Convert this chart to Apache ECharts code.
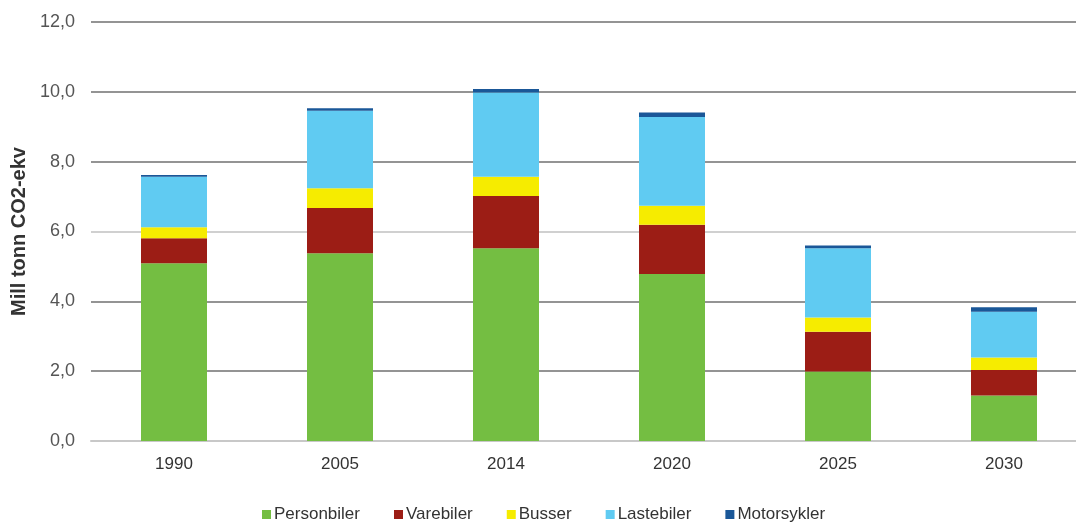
<!DOCTYPE html>
<html>
<head>
<meta charset="utf-8">
<script src="https://cdn.jsdelivr.net/npm/echarts@6/dist/echarts.min.js"></script>
<style>html,body{margin:0;padding:0;background:#fff;}#c{width:1076px;height:522px;}</style>
</head>
<body>
<div id="c"></div>
<script>
const categories = ['1990', '2005', '2014', '2020', '2025', '2030'];
const personbiler = [5.09, 5.38, 5.52, 4.78, 1.99, 1.30];
const varebiler   = [0.72, 1.29, 1.50, 1.41, 1.14, 0.73];
const busser      = [0.31, 0.57, 0.55, 0.55, 0.41, 0.36];
const lastebiler  = [1.45, 2.22, 2.41, 2.54, 1.98, 1.31];
const motorsykler = [0.05, 0.07, 0.10, 0.13, 0.08, 0.13];
const seriesNames = ['Personbiler', 'Varebiler', 'Busser', 'Lastebiler', 'Motorsykler'];
const seriesColors = ['#74be42', '#9c1d15', '#f6ec00', '#60cbf2', '#1a5798'];
const yTicks = [0, 2, 4, 6, 8, 10, 12];

const dataSets = [personbiler, varebiler, busser, lastebiler, motorsykler];
const font = 'Liberation Sans, Arial, sans-serif';
const chart = echarts.init(document.getElementById('c'));
chart.setOption({
  animation: false,
  backgroundColor: '#fff',
  grid: { left: 91, width: 996, top: 22, bottom: 81, containLabel: false, outerBoundsMode: 'none' },
  legend: {
    top: 506, left: 262, padding: 0,
    itemWidth: 9, itemHeight: 9, itemGap: 34,
    icon: 'rect',
    textStyle: { fontFamily: font, fontSize: 17, color: '#333', padding: [0, 0, 0, -2] },
    data: seriesNames
  },
  xAxis: {
    type: 'category',
    data: categories,
    axisLine: { show: true, lineStyle: { color: '#c8c8c8', width: 2 } },
    axisTick: { show: false },
    axisLabel: { fontFamily: font, fontSize: 17, color: '#333', margin: 15 }
  },
  yAxis: {
    type: 'value',
    min: yTicks[0], max: yTicks[yTicks.length - 1], interval: 2,
    name: 'Mill tonn CO2-ekv',
    nameLocation: 'middle',
    nameGap: 61,
    nameTextStyle: { fontFamily: font, fontSize: 20, fontWeight: 'bold', color: '#333' },
    axisLine: { show: false },
    axisTick: { show: false },
    axisLabel: {
      fontFamily: font, fontSize: 18, color: '#555', margin: 16,
      formatter: v => v.toFixed(1).replace('.', ',')
    },
    splitLine: { lineStyle: { color: ['#c8c8c8', '#707070', '#707070', '#c0c0c0', '#707070', '#707070', '#707070'], width: 1.5 } }
  },
  series: seriesNames.map((n, i) => ({
    name: n,
    type: 'bar',
    stack: 'total',
    barWidth: 66,
    itemStyle: { color: seriesColors[i] },
    data: dataSets[i]
  }))
});
</script>
</body>
</html>
